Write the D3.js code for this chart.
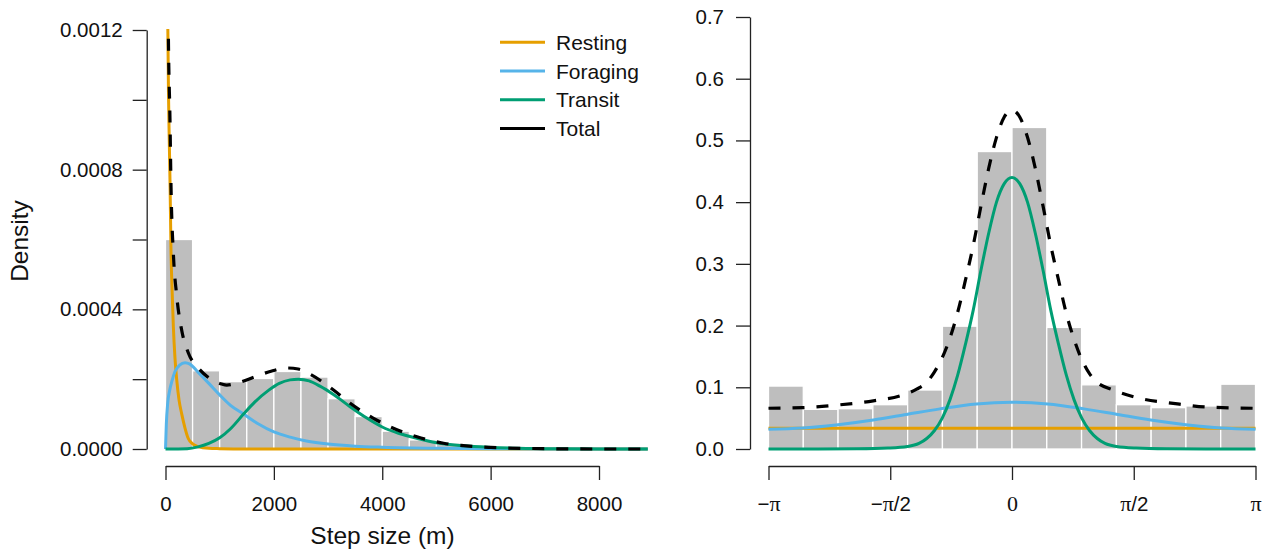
<!DOCTYPE html>
<html>
<head>
<meta charset="utf-8">
<script src="https://cdn.jsdelivr.net/npm/d3@7"></script>
<style>
  html, body { margin: 0; padding: 0; background: #fff; }
  svg { display: block; }
  text { font-family: "Liberation Sans", Arial, Helvetica, sans-serif; fill: #111; }
</style>
</head>
<body>
<svg id="chart" width="1267" height="551"></svg>
<script>
// ---------------- DATA ----------------
// Left panel: step size histogram (500 m bins)
const stepBinEdges = [0,500,1000,1500,2000,2500,3000,3500,4000,4500,5000,5500,6000,6500,7000,7500,8000];
const stepDensity  = [0.0006,0.000224,0.000193,0.000202,0.000222,0.000206,0.000144,0.000093,0.000051,0.000026,0.000017,0.000009,0.000005,0.000003,0.000002,0.000001];

// Left panel curves
const restingStepX = [35,45,55,70,85,100,125,145,175,206,250,300,360,420,500,600,800,1000,1500,8900];
const restingStepY = [0.0013,0.00118,0.00102,0.00088,0.00075,0.00058,0.00044,0.00035,0.00026,0.0002,0.00014,0.0001,0.00006,0.00003,0.000015,0.000007,0.000002,0.000001,0,0];

const foragingStepX = [0,15,40,80,120,175,260,360,450,600,800,1000,1200,1440,1700,2000,2300,2600,3000,3500,4000,5000,6000,7000,8900];
const foragingStepY = [0,0.00007,0.00013,0.00017,0.000195,0.000222,0.00024,0.000247,0.000243,0.00022,0.000188,0.000155,0.000125,0.0001,0.000073,0.000049,0.000034,0.000023,0.000014,0.000008,0.000005,0.000002,0.000001,0,0];

const transitStepX = [0,400,600,800,1000,1200,1440,1650,1900,2100,2300,2450,2650,2850,3100,3400,3700,4000,4300,4650,5000,5500,6000,6500,7000,8000,8900];
const transitStepY = [0,0.000001,0.000006,0.000016,0.000032,0.000058,0.0001,0.000135,0.000168,0.000188,0.000198,0.0002,0.000195,0.00018,0.000156,0.000122,0.00009,0.000063,0.000045,0.00003,0.000018,0.000009,0.0000045,0.000002,0.000001,0,0];

const totalStepX = [35,45,52,83,102,145,206,299,422,606,791,1038,1130,1345,1653,1930,2239,2450,2670,3100,3408,3839,4271,4640,5132,5600,6000,7000,8000,8900];
const totalStepY = [0.00145,0.00132,0.0012,0.00094,0.00075,0.00056,0.00044,0.00034,0.000275,0.000232,0.000205,0.000186,0.000183,0.00019,0.000207,0.000222,0.000232,0.000229,0.000214,0.000169,0.000131,0.000088,0.000055,0.000035,0.0000165,0.000008,0.0000045,0.000001,0,0];

const stepTicks = [0,2000,4000,6000,8000];
const densityTicks = [0,0.0002,0.0004,0.0006,0.0008,0.001,0.0012];
const densityTickLabels = ["0.0000","","0.0004","","0.0008","","0.0012"];

// Right panel: turning angle histogram (14 bins over -pi..pi)
const angleBinCount = 14;
const angleDensity = [0.102,0.0643,0.0653,0.0718,0.0956,0.199,0.482,0.521,0.197,0.104,0.0718,0.067,0.0697,0.105];

const PI = Math.PI;
const restingAngleX = [-PI, PI];
const restingAngleY = [0.0335, 0.0335];

const foragingAngleX = [-PI,-2.7,-2.27,-1.79,-1.36,-0.93,-0.46,0,0.46,0.93,1.36,1.79,2.27,2.7,PI];
const foragingAngleY = [0.032,0.034,0.039,0.047,0.056,0.065,0.073,0.0757,0.073,0.065,0.056,0.047,0.039,0.034,0.032];

const transitAngleX = [-PI,-2.5,-2.0,-1.6,-1.35,-1.2,-1.1,-1.0,-0.9,-0.8,-0.7,-0.6,-0.5,-0.4,-0.3,-0.2,-0.1,0,0.1,0.2,0.3,0.4,0.5,0.6,0.7,0.8,0.9,1.0,1.1,1.2,1.35,1.6,2.0,2.5,PI];
const transitAngleY = [0,0,0.0003,0.0015,0.004,0.009,0.017,0.03,0.05,0.08,0.12,0.17,0.225,0.29,0.35,0.40,0.43,0.44,0.43,0.40,0.35,0.29,0.225,0.17,0.12,0.08,0.05,0.03,0.017,0.009,0.004,0.0015,0.0003,0,0];

const totalAngleX = [-PI,-2.7,-2.27,-1.79,-1.45,-1.23,-1.1,-1.0,-0.9,-0.8,-0.7,-0.6,-0.5,-0.4,-0.3,-0.2,-0.1,0,0.1,0.2,0.3,0.4,0.5,0.6,0.7,0.8,0.9,1.0,1.1,1.3,1.65,2.08,2.51,PI];
const totalAngleY = [0.066,0.067,0.071,0.078,0.086,0.097,0.108,0.125,0.148,0.18,0.222,0.274,0.33,0.394,0.455,0.505,0.538,0.549,0.538,0.505,0.455,0.394,0.33,0.274,0.22,0.178,0.145,0.122,0.108,0.096,0.082,0.074,0.068,0.066];

const angleTicks = [-PI,-PI/2,0,PI/2,PI];
const angleTickLabels = [["\u2212","\u03c0",""],["\u2212","\u03c0","/2"],["","0",""],["","\u03c0","/2"],["","\u03c0",""]];
const angleDensityTicks = [0,0.1,0.2,0.3,0.4,0.5,0.6,0.7];

const legendLabels = ["Resting","Foraging","Transit","Total"];
const colors = { Resting: "#E69F00", Foraging: "#56B4E9", Transit: "#009E73", Total: "#000000" };

// ---------------- DRAW ----------------
const svg = d3.select("#chart");
const barFill = "#BEBEBE";
const tickFont = "20.5px";
const titleFont = "24.5px";

function zip(xs, ys) { return xs.map((x, i) => [x, ys[i]]); }

// ===== Left panel =====
const xL = d3.scaleLinear().domain([0, 8000]).range([165.5, 599]);
const yL = d3.scaleLinear().domain([0, 0.0012]).range([449, 30]);

svg.append("clipPath").attr("id", "clipL")
  .append("rect").attr("x", 140).attr("y", yL(0.0012) - 1).attr("width", 520).attr("height", 449 - yL(0.0012) + 6);

const gL = svg.append("g");
gL.selectAll("rect.bar").data(stepDensity).join("rect")
  .attr("class", "bar")
  .attr("x", (d, i) => xL(stepBinEdges[i]))
  .attr("width", (d, i) => xL(stepBinEdges[i + 1]) - xL(stepBinEdges[i]))
  .attr("y", d => yL(d))
  .attr("height", d => yL(0) - yL(d))
  .attr("fill", barFill).attr("stroke", "#fff").attr("stroke-width", 1.3);

const lineL = d3.line().x(d => xL(d[0])).y(d => yL(d[1])).curve(d3.curveMonotoneX);
const curvesL = gL.append("g").attr("clip-path", "url(#clipL)");
[["Resting", restingStepX, restingStepY], ["Foraging", foragingStepX, foragingStepY], ["Transit", transitStepX, transitStepY]]
  .forEach(([k, xs, ys]) => {
    curvesL.append("path").attr("d", lineL(zip(xs, ys)))
      .attr("fill", "none").attr("stroke", colors[k]).attr("stroke-width", 3);
  });
curvesL.append("path").attr("d", lineL(zip(totalStepX, totalStepY)))
  .attr("fill", "none").attr("stroke", "#000").attr("stroke-width", 3.2).attr("stroke-dasharray", "12,12");

// axes left
svg.append("g").attr("transform", "translate(146.7,0)")
  .call(d3.axisLeft(yL).tickValues(densityTicks).tickFormat((d, i) => densityTickLabels[i]).tickSize(14).tickSizeOuter(0).tickPadding(10));
svg.append("g").attr("transform", "translate(0,466)")
  .call(d3.axisBottom(xL).tickValues(stepTicks).tickFormat(d3.format("d")).tickSize(14).tickSizeOuter(0).tickPadding(16));

svg.append("text").attr("x", 382.5).attr("y", 544).attr("text-anchor", "middle").style("font-size", titleFont).text("Step size (m)");
svg.append("text").attr("transform", "translate(27.5,241) rotate(-90)").attr("text-anchor", "middle").style("font-size", titleFont).text("Density");

// legend
const leg = svg.append("g");
legendLabels.forEach((lab, i) => {
  const y = 42.3 + i * 28.7;
  leg.append("line").attr("x1", 500).attr("x2", 545).attr("y1", y).attr("y2", y)
    .attr("stroke", colors[lab]).attr("stroke-width", 3);
  leg.append("text").attr("x", 556).attr("y", y).attr("dy", "0.36em").style("font-size", "21px").text(lab);
});

// ===== Right panel =====
const xR = d3.scaleLinear().domain([-PI, PI]).range([768.5, 1255.5]);
const yR = d3.scaleLinear().domain([0, 0.7]).range([449, 17]);
const binW = 2 * PI / angleBinCount;

const gR = svg.append("g");
gR.selectAll("rect.bar").data(angleDensity).join("rect")
  .attr("class", "bar")
  .attr("x", (d, i) => xR(-PI + i * binW))
  .attr("width", (d, i) => xR(-PI + (i + 1) * binW) - xR(-PI + i * binW))
  .attr("y", d => yR(d))
  .attr("height", d => yR(0) - yR(d))
  .attr("fill", barFill).attr("stroke", "#fff").attr("stroke-width", 1.3);

const lineR = d3.line().x(d => xR(d[0])).y(d => yR(d[1])).curve(d3.curveMonotoneX);
[["Resting", restingAngleX, restingAngleY], ["Foraging", foragingAngleX, foragingAngleY], ["Transit", transitAngleX, transitAngleY]]
  .forEach(([k, xs, ys]) => {
    gR.append("path").attr("d", lineR(zip(xs, ys)))
      .attr("fill", "none").attr("stroke", colors[k]).attr("stroke-width", 3);
  });
gR.append("path").attr("d", lineR(zip(totalAngleX, totalAngleY)))
  .attr("fill", "none").attr("stroke", "#000").attr("stroke-width", 3.2).attr("stroke-dasharray", "12,12");

svg.append("g").attr("transform", "translate(750,0)")
  .call(d3.axisLeft(yR).tickValues(angleDensityTicks).tickFormat(d3.format(".1f")).tickSize(14).tickSizeOuter(0).tickPadding(12));
const axXR = svg.append("g").attr("transform", "translate(0,466)")
  .call(d3.axisBottom(xR).tickValues(angleTicks).tickFormat("").tickSize(14).tickSizeOuter(0).tickPadding(16));
axXR.selectAll(".tick text").each(function(d, i) {
  const t = d3.select(this);
  const parts = angleTickLabels[i];
  t.text(null);
  t.append("tspan").text(parts[0]);
  t.append("tspan").style("font-family", "'Liberation Serif', 'Times New Roman', serif").style("font-size", "22px").text(parts[1]);
  t.append("tspan").text(parts[2]);
});

// style axes
svg.selectAll(".domain, .tick line").attr("stroke", "#222").attr("stroke-width", 1.3);
svg.selectAll(".tick text").style("font-size", tickFont).attr("fill", "#111");
svg.selectAll("g text").style("font-family", null);
</script>
</body>
</html>
